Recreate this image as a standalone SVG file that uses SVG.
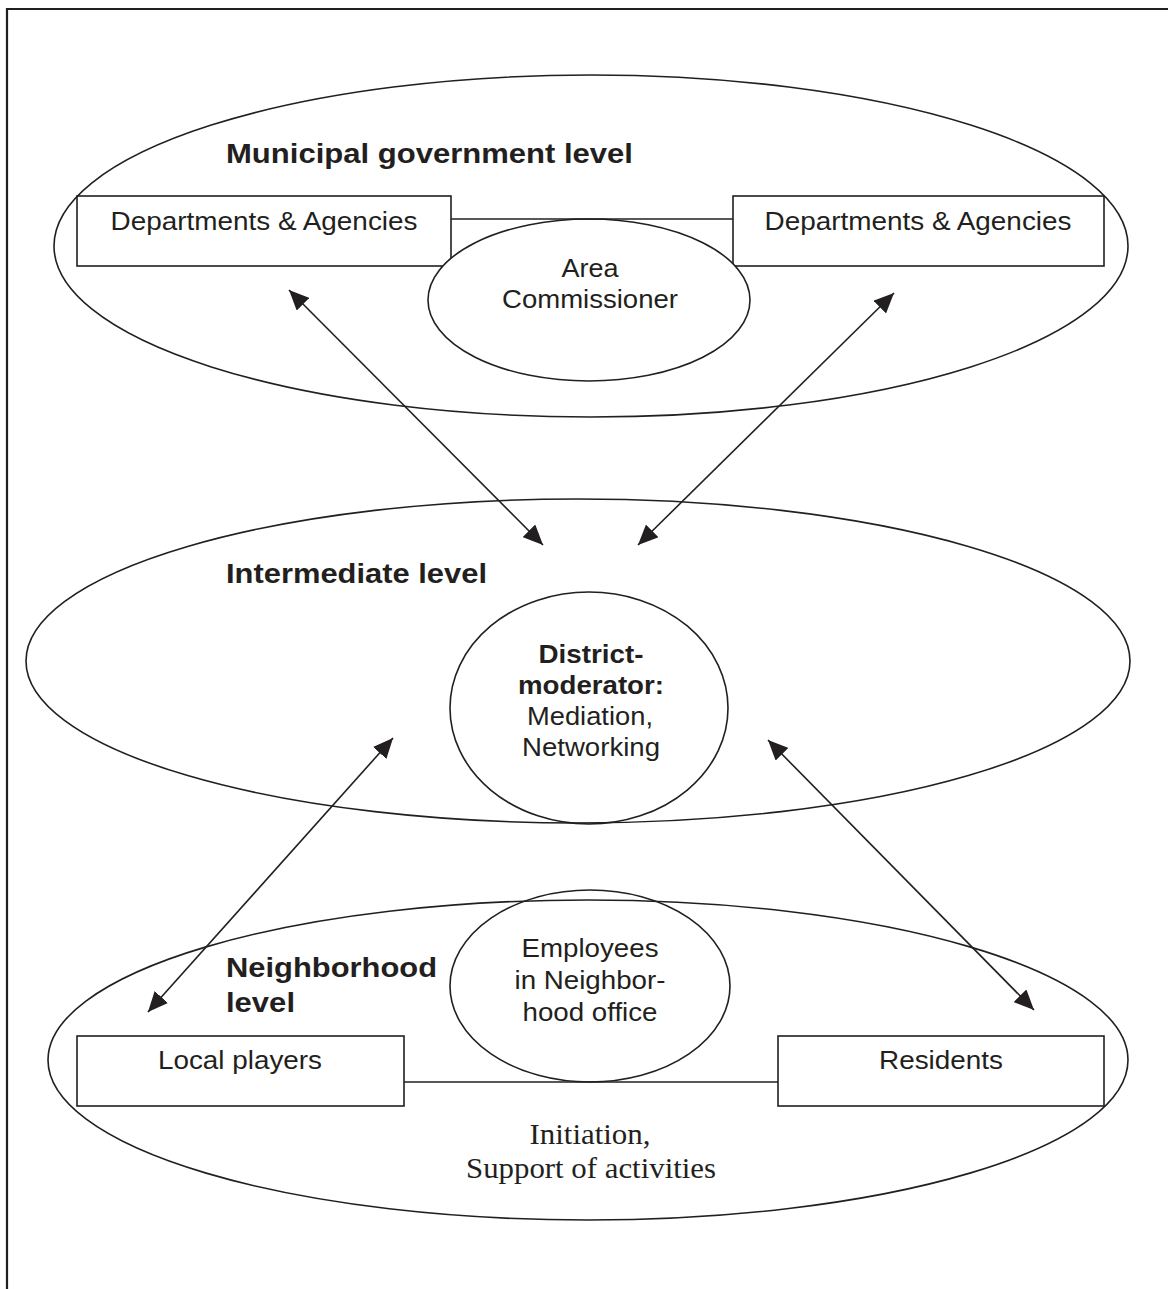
<svg xmlns="http://www.w3.org/2000/svg" width="1168" height="1289" viewBox="0 0 1168 1289">
<style>
.sh{fill:none;stroke:#231f20;stroke-width:1.6}
.ln{fill:none;stroke:#231f20;stroke-width:1.6}
.ar{fill:none;stroke:#231f20;stroke-width:1.6;marker-start:url(#ah);marker-end:url(#ah)}
.t{font-family:"Liberation Sans",Arial,sans-serif;font-size:25px;fill:#231f20}
.b{font-family:"Liberation Sans",Arial,sans-serif;font-size:28px;font-weight:bold;fill:#231f20}
.bs{font-family:"Liberation Sans",Arial,sans-serif;font-size:25px;font-weight:bold;fill:#231f20}
.s{font-family:"Liberation Serif","Times New Roman",serif;font-size:30px;fill:#231f20}
.c{text-anchor:middle}
</style>
<defs>
<marker id="ah" viewBox="0 0 20 18" refX="20" refY="9" markerWidth="20" markerHeight="18" markerUnits="userSpaceOnUse" orient="auto-start-reverse">
<path d="M0,0 L20,9 L0,18 z" fill="#231f20"/>
</marker>
</defs>
<rect width="1168" height="1289" fill="#ffffff"/>
<g id="frame">
<path d="M7,1289 V9 H1168" fill="none" stroke="#231f20" stroke-width="2.2"/>
</g>

<g id="municipal-level">
<ellipse class="sh" cx="591" cy="246" rx="537" ry="171"/>
<text class="b" x="226" y="163" textLength="407" lengthAdjust="spacingAndGlyphs">Municipal government level</text>
</g>
<g id="dept-left">
<rect class="sh" x="77" y="196" width="374" height="70"/>
<text class="t c" x="264" y="230" textLength="307" lengthAdjust="spacingAndGlyphs">Departments &amp; Agencies</text>
</g>
<g id="dept-right">
<rect class="sh" x="733" y="196" width="371" height="70"/>
<text class="t c" x="918" y="230" textLength="307" lengthAdjust="spacingAndGlyphs">Departments &amp; Agencies</text>
</g>
<g id="area-commissioner">
<ellipse class="sh" cx="589" cy="300" rx="161" ry="81" style="fill:#fff"/>
<text class="t c" x="590" y="277" textLength="57" lengthAdjust="spacingAndGlyphs">Area</text>
<text class="t c" x="590" y="308" textLength="176" lengthAdjust="spacingAndGlyphs">Commissioner</text>
</g>

<g id="intermediate-level">
<ellipse class="sh" cx="578" cy="661" rx="552" ry="162"/>
<text class="b" x="226" y="583" textLength="261" lengthAdjust="spacingAndGlyphs">Intermediate level</text>
</g>
<g id="district-moderator">
<ellipse class="sh" cx="589" cy="708" rx="139" ry="116"/>
<text class="bs c" x="591" y="663" textLength="105" lengthAdjust="spacingAndGlyphs">District-</text>
<text class="bs c" x="591" y="694" textLength="146" lengthAdjust="spacingAndGlyphs">moderator:</text>
<text class="t c" x="590" y="725" textLength="126" lengthAdjust="spacingAndGlyphs">Mediation,</text>
<text class="t c" x="591" y="756" textLength="138" lengthAdjust="spacingAndGlyphs">Networking</text>
</g>

<g id="neighborhood-level">
<ellipse class="sh" cx="588" cy="1060" rx="540" ry="160"/>
<text class="b" x="226" y="977" textLength="211" lengthAdjust="spacingAndGlyphs">Neighborhood</text>
<text class="b" x="226" y="1012" textLength="69" lengthAdjust="spacingAndGlyphs">level</text>
<text class="s c" x="590" y="1144" textLength="121" lengthAdjust="spacingAndGlyphs">Initiation,</text>
<text class="s c" x="591" y="1178" textLength="250" lengthAdjust="spacingAndGlyphs">Support of activities</text>
</g>
<g id="employees">
<ellipse class="sh" cx="590" cy="986" rx="140" ry="96"/>
<text class="t c" x="590" y="957" textLength="137" lengthAdjust="spacingAndGlyphs">Employees</text>
<text class="t c" x="590" y="989" textLength="151" lengthAdjust="spacingAndGlyphs">in Neighbor-</text>
<text class="t c" x="590" y="1021" textLength="135" lengthAdjust="spacingAndGlyphs">hood office</text>
</g>
<g id="local-players">
<rect class="sh" x="77" y="1036" width="327" height="70"/>
<text class="t c" x="240" y="1069" textLength="164" lengthAdjust="spacingAndGlyphs">Local players</text>
</g>
<g id="residents">
<rect class="sh" x="778" y="1036" width="326" height="70"/>
<text class="t c" x="941" y="1069" textLength="124" lengthAdjust="spacingAndGlyphs">Residents</text>
</g>

<g id="connectors">
<line class="ln" x1="451" y1="219" x2="733" y2="219"/>
<line class="ln" x1="404" y1="1082" x2="778" y2="1082"/>
<line class="ar" x1="289" y1="290" x2="543" y2="545"/>
<line class="ar" x1="894" y1="293" x2="638" y2="545"/>
<line class="ar" x1="393" y1="738" x2="148" y2="1012"/>
<line class="ar" x1="768" y1="740" x2="1034" y2="1010"/>
</g>
</svg>
